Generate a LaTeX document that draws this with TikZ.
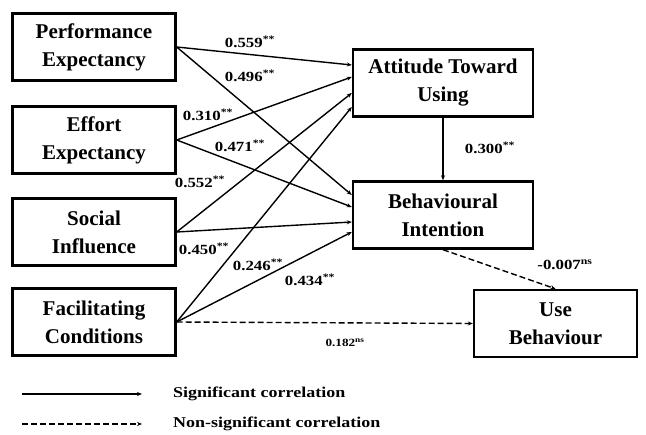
\documentclass[tikz,border=0pt]{standalone}
\usepackage{fontspec}
\setmainfont{Liberation Serif}
\newfontfamily\widefont[FakeStretch=1.2]{Liberation Serif}
\usetikzlibrary{arrows.meta, positioning}

\begin{document}
\begin{tikzpicture}[
			x=1pt, y=-1pt,
			block/.style={rectangle, draw, line width=2.4pt, minimum width=163pt, minimum height=67pt, align=center, inner sep=2pt, font=\fontsize{21}{28}\selectfont\bfseries},
			wide/.style={minimum width=180pt},
			arrow/.style={-{Stealth[length=5pt, width=4pt]}, line width=1.4pt},
			nsarrow/.style={arrow, dash pattern=on 6pt off 3pt},
			coef/.style={font=\widefont\fontsize{14}{16}\selectfont\bfseries, inner sep=1pt},
			legend/.style={font=\widefont\fontsize{15}{18}\selectfont\bfseries, anchor=west, inner sep=0pt}
			]
			\useasboundingbox (0,0) rectangle (646,435);
			\node[block] (pe) at (94,47) {Performance\\Expectancy};
			\node[block] (ee) at (94,140) {Effort\\Expectancy};
			\node[block] (si) at (94,232) {Social\\Influence};
			\node[block] (fc) at (94,322) {Facilitating\\Conditions};
			\node[block, wide] (atu) at (443,83) {Attitude Toward\\Using};
			\node[block, wide] (bi) at (443,215) {Behavioural\\Intention};
			\node[block] (ub) at (555.5,323.5) {Use\\Behaviour};
			
			\draw[arrow] (pe.east) -- ([yshift=18pt]atu.west);
			\draw[arrow] (ee.east) -- ([yshift=6pt]atu.west);
			\draw[arrow] (si.east) -- ([yshift=-10pt]atu.west);
			\draw[arrow] (fc.east) -- ([yshift=-24pt]atu.west);
			\draw[arrow] (pe.east) -- ([yshift=20pt]bi.west);
			\draw[arrow] (ee.east) -- ([yshift=8pt]bi.west);
			\draw[arrow] (si.east) -- ([yshift=-7pt]bi.west);
			\draw[arrow] (fc.east) -- ([yshift=-17pt]bi.west);
			\draw[arrow] (atu) -- (bi);
			\draw[nsarrow] (bi.south) -- (ub.north);
			\draw[nsarrow] (fc.east) -- (ub.west);
			
			\node[coef] (k559) at (250,42) {0.559\textsuperscript{**}};
			\node[coef] (k496) at (250,76) {0.496\textsuperscript{**}};
			\node[coef] (k310) at (208,115) {0.310\textsuperscript{**}};
			\node[coef] (k471) at (240,146) {0.471\textsuperscript{**}};
			\node[coef] (k552) at (200,182) {0.552\textsuperscript{**}};
			\node[coef] (k450) at (204,249) {0.450\textsuperscript{**}};
			\node[coef] (k246) at (258,265) {0.246\textsuperscript{**}};
			\node[coef] (k434) at (310,280) {0.434\textsuperscript{**}};
			\node[coef] (k300) at (490,148) {0.300\textsuperscript{**}};
			\node[coef] (k007) at (565,265) {-0.007\textsuperscript{ns}};
			\node[coef, font=\widefont\fontsize{11}{13}\selectfont\bfseries] (k182) at (345,343) {0.182\textsuperscript{ns}};
			
			\coordinate (s1) at (22,394);
			\coordinate (s2) at (142,394);
			\coordinate (n1) at (22,424);
			\coordinate (n2) at (142,424);
			\draw[arrow] (s1) -- (s2);
			\draw[nsarrow] (n1) -- (n2);
			\node[legend, right=31pt of s2] (sig) {Significant correlation};
			\node[legend, right=31pt of n2] (nsig) {Non-significant correlation};
		\end{tikzpicture}
\end{document}
